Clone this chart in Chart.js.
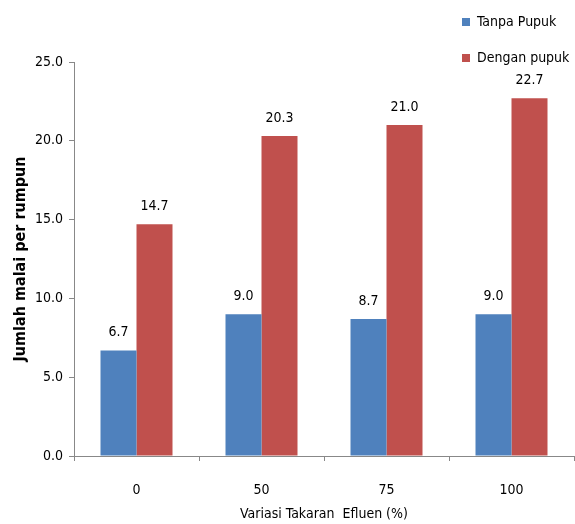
<!DOCTYPE html>
<html lang="id">
  <head>
    <meta charset="UTF-8" />
    <title>Jumlah malai per rumpun</title>
    <style>
      body { margin: 0; background: #fff; }
      #wrap { width: 575px; height: 524px; }
    </style>
  </head>
  <body>
    <div id="wrap"><canvas id="myChart"></canvas></div>

    <script src="https://cdn.jsdelivr.net/npm/chart.js@4.4.1/dist/chart.umd.min.js"></script>
    <script>
      const categories = ['0', '50', '75', '100']
      const tanpaPupuk = [6.7, 9.0, 8.7, 9.0]
      const denganPupuk = [14.7, 20.3, 21.0, 22.7]
      const yTicks = [0, 5, 10, 15, 20, 25]

      const FONT = "'DejaVu Sans Condensed', 'DejaVu Sans', sans-serif"

      // legend sits above the plot on the right, in a column
      const legendMover = {
        id: 'legendMover',
        beforeInit(chart) {
          const fit = chart.legend.fit
          chart.legend.fit = function () {
            fit.call(this)
            this.width = 0
          }
        },
        afterLayout(chart) {
          const lg = chart.legend
          lg.left = 440
          lg.right = 575
          lg.top = -7
          lg.bottom = 120
          lg.width = lg.right - lg.left
          lg.height = lg.bottom - lg.top
        },
      }

      // value labels above each bar
      const barLabels = {
        id: 'barLabels',
        afterDatasetsDraw(chart) {
          const ctx = chart.ctx
          ctx.save()
          ctx.font = '14px ' + FONT
          ctx.fillStyle = '#000'
          ctx.textAlign = 'center'
          ctx.textBaseline = 'bottom'
          chart.data.datasets.forEach((ds, i) => {
            chart.getDatasetMeta(i).data.forEach((bar, j) => {
              ctx.fillText(ds.data[j].toFixed(1), bar.x, bar.y - 11)
            })
          })
          ctx.restore()
        },
      }

      new Chart('myChart', {
        type: 'bar',
        data: {
          labels: categories,
          datasets: [
            {
              label: 'Tanpa Pupuk',
              data: tanpaPupuk,
              backgroundColor: '#4F81BD',
              barPercentage: 1,
              categoryPercentage: 0.576,
            },
            {
              label: 'Dengan pupuk',
              data: denganPupuk,
              backgroundColor: '#C0504D',
              barPercentage: 1,
              categoryPercentage: 0.576,
            },
          ],
        },
        options: {
          responsive: true,
          maintainAspectRatio: false,
          animation: false,
          layout: { padding: { top: 62, right: 1, left: 0, bottom: 0 } },
          plugins: {
            legend: {
              position: 'right',
              align: 'start',
              labels: {
                boxWidth: 8,
                boxHeight: 8,
                padding: 22,
                color: '#000',
                font: { family: FONT, size: 14 },
              },
            },
            tooltip: { enabled: false },
          },
          scales: {
            x: {
              grid: {
                drawOnChartArea: false,
                tickLength: 5,
                color: '#888',
              },
              border: { color: '#888' },
              ticks: {
                padding: 21,
                color: '#000',
                font: { family: FONT, size: 14 },
              },
              title: {
                display: true,
                text: 'Variasi Takaran  Efluen (%)',
                color: '#000',
                font: { family: FONT, size: 14 },
                padding: { top: 0, bottom: 1 },
              },
              afterFit(scale) {
                scale.height = 68
              },
            },
            y: {
              min: 0,
              max: 25,
              afterBuildTicks(scale) {
                scale.ticks = yTicks.map((v) => ({ value: v }))
              },
              grid: {
                drawOnChartArea: false,
                tickLength: 5,
                color: '#888',
              },
              border: { color: '#888' },
              ticks: {
                padding: 6,
                color: '#000',
                font: { family: FONT, size: 14 },
                callback: (v) => Number(v).toFixed(1),
              },
              title: {
                display: true,
                text: 'Jumlah malai per rumpun',
                color: '#000',
                font: { family: FONT, size: 16, weight: 'bold' },
                padding: { top: 11, bottom: 0 },
              },
              afterFit(scale) {
                scale.width = 74
              },
            },
          },
        },
        plugins: [legendMover, barLabels],
      })
    </script>
  </body>
</html>
